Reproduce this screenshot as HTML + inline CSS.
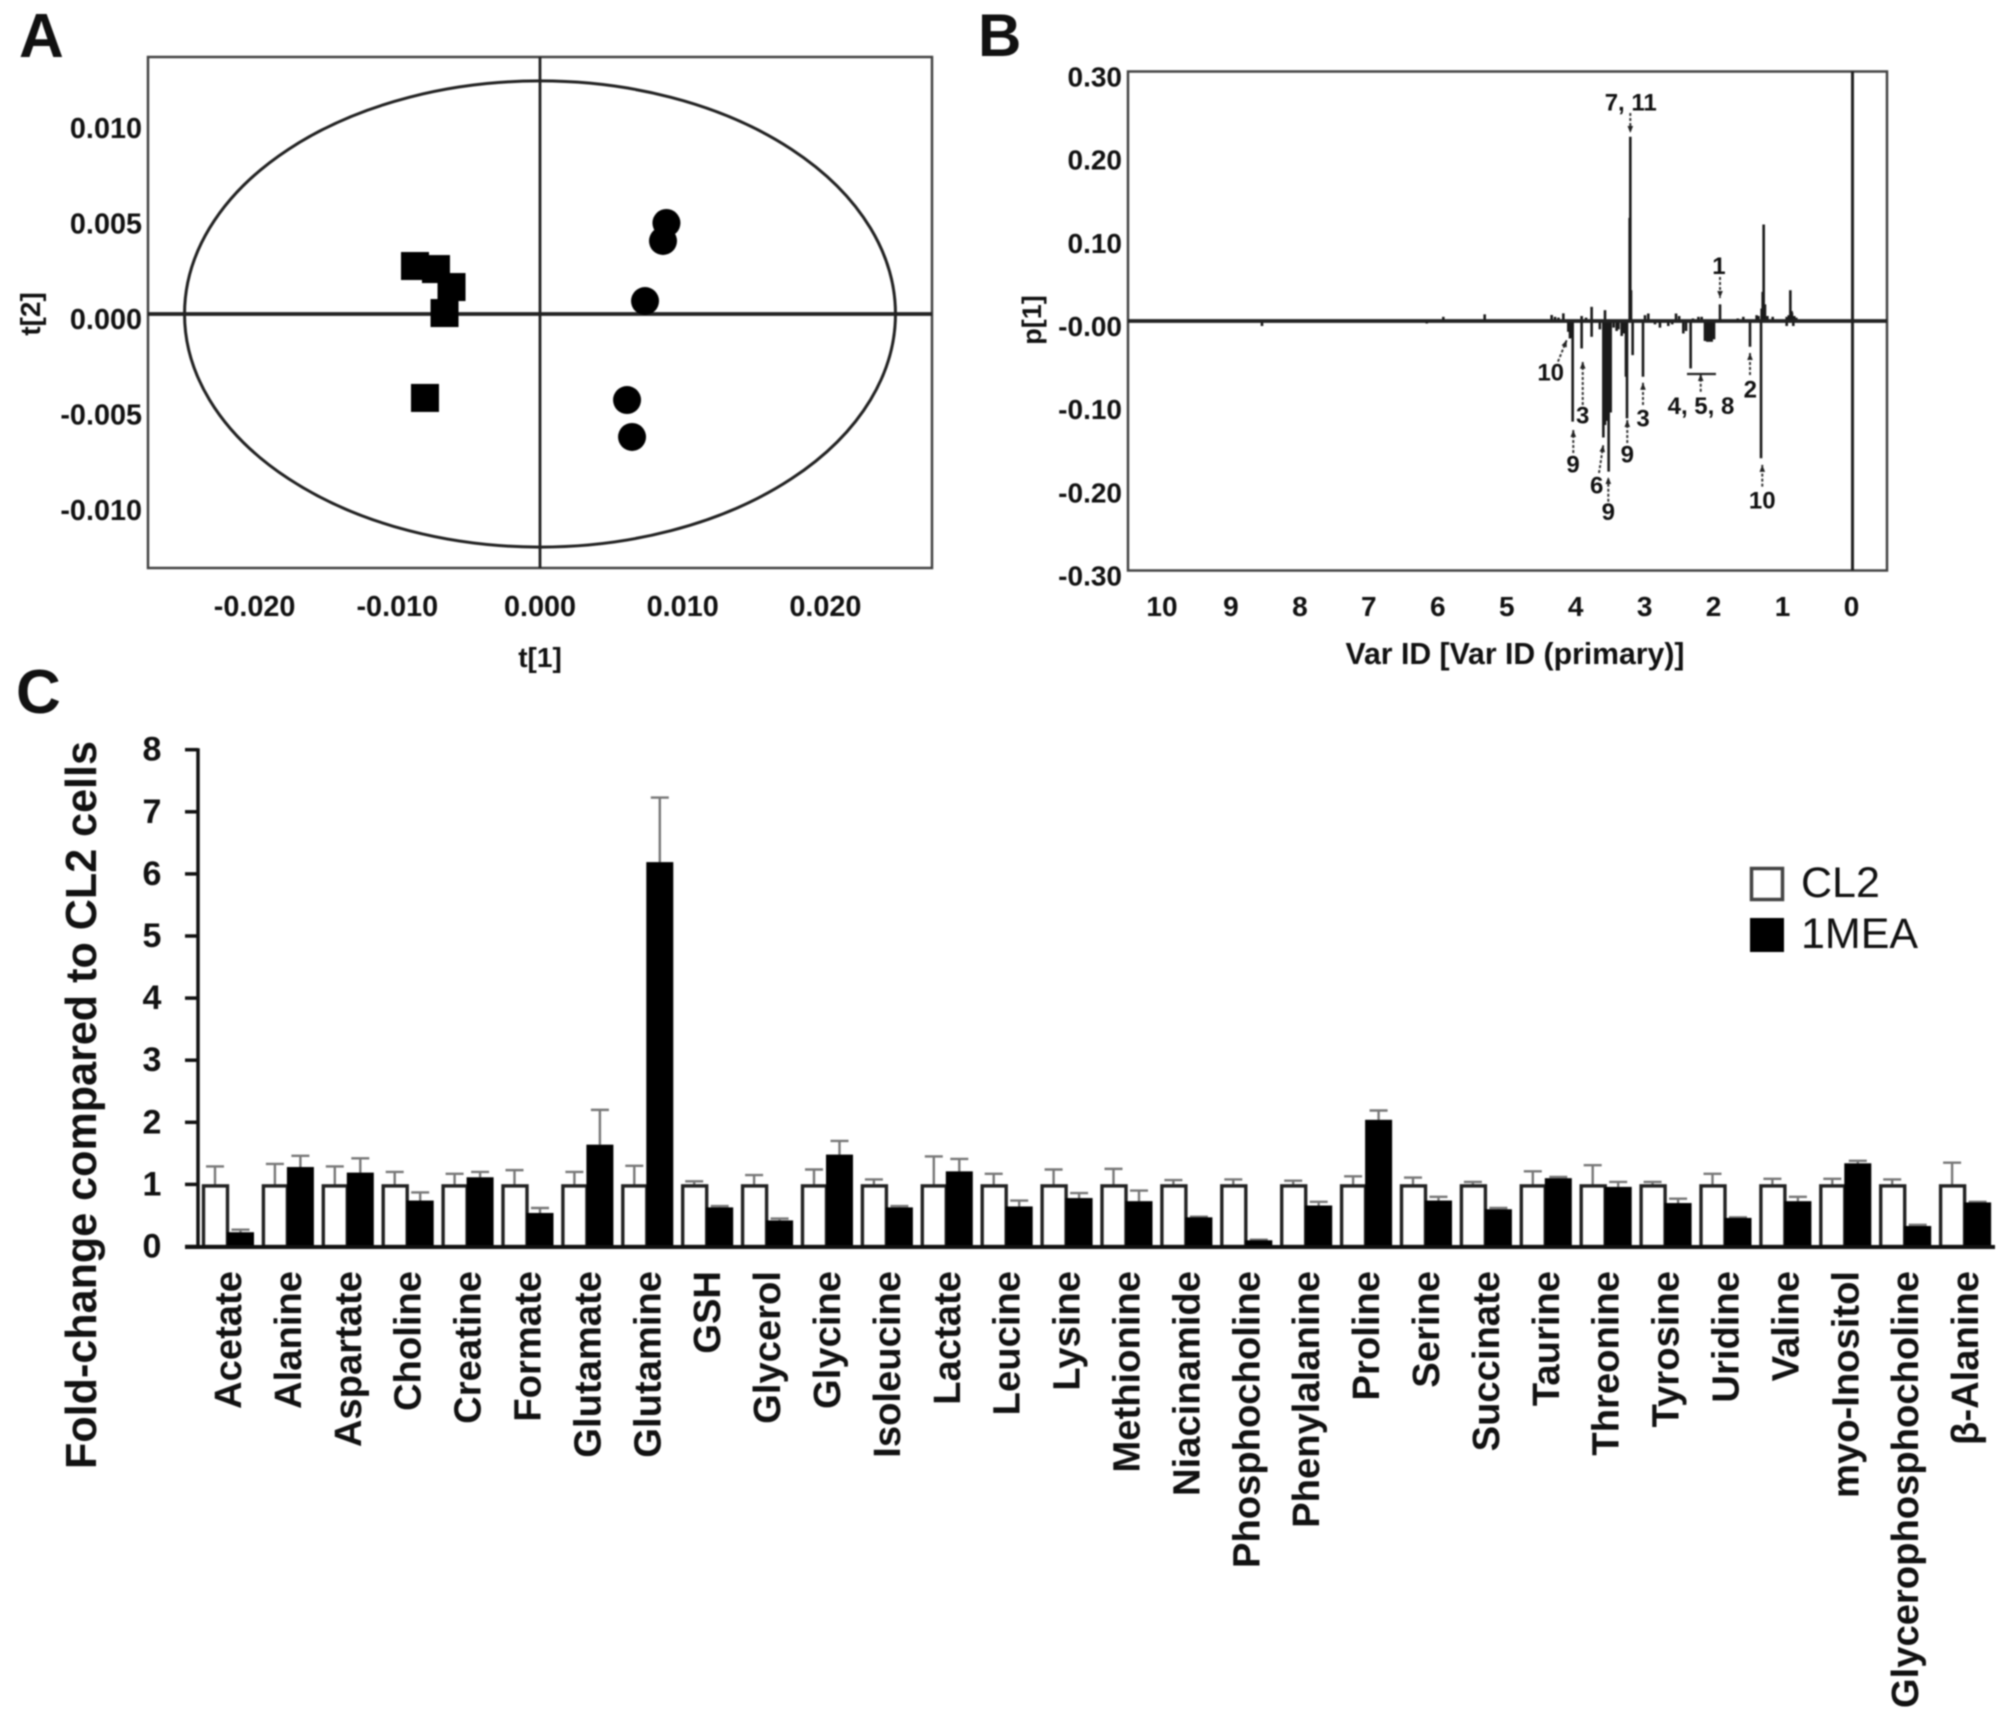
<!DOCTYPE html>
<html lang="en">
<head>
<meta charset="utf-8">
<title>Metabolomics figure: PCA score plot, loadings plot and fold-change bars</title>
<style>
  html, body { margin: 0; padding: 0; background: #fff; }
  #figure { display: block; width: 2008px; height: 1721px; filter: blur(0.8px); }
  text { font-family: "Liberation Sans", "Noto Sans CJK SC", sans-serif; fill: #111; }
  .b { font-weight: bold; }
</style>
</head>
<body>
<svg id="figure" xmlns="http://www.w3.org/2000/svg" width="2008" height="1721" viewBox="0 0 2008 1721">
  <rect x="0" y="0" width="2008" height="1721" fill="#fff"/>
  <text class="b" x="19" y="57" font-size="62">A</text>
  <text class="b" x="978" y="56" font-size="60">B</text>
  <text class="b" x="16" y="713" font-size="62">C</text>

  <g id="panelA">
    <text class="b" x="540" y="667" font-size="28" text-anchor="middle">t[1]</text>
    <text class="b" transform="translate(40,314) rotate(-90)" font-size="28" text-anchor="middle">t[2]</text>
  </g>
  <g id="panelB">
    <text class="b" x="1515" y="664" font-size="30.2" text-anchor="middle">Var ID [Var ID (primary)]</text>
    <text class="b" transform="translate(1041,320) rotate(-90)" font-size="27" text-anchor="middle">p[1]</text>
  </g>
  <g id="panelC">
    <text class="b" transform="translate(96,1105) rotate(-90)" font-size="43.1" text-anchor="middle">Fold-change compared to CL2 cells</text>
    <g>
      <rect x="1751.5" y="868.5" width="31" height="31" fill="#fff" stroke="#444" stroke-width="3.5"/>
      <text x="1801" y="897" font-size="43">CL2</text>
      <rect x="1750" y="918" width="34" height="34" fill="#000"/>
      <text x="1801" y="948" font-size="43">1MEA</text>
    </g>
  </g>
</svg>

<script>
/* ---------- Panel A data ---------- */
const scoreXTicks = [-0.02, -0.01, 0, 0.01, 0.02];
const scoreXTickLabels = ['-0.020', '-0.010', '0.000', '0.010', '0.020'];
const scoreYTicks = [0.01, 0.005, 0, -0.005, -0.01];
const scoreYTickLabels = ['0.010', '0.005', '0.000', '-0.005', '-0.010'];
const squareT1 = [-0.00876, -0.00729, -0.0062, -0.00669, -0.00806];
const squareT2 = [0.00251, 0.00235, 0.00141, 0.00005, -0.00439];
const circleT1 = [0.00886, 0.00862, 0.00736, 0.0061, 0.00645];
const circleT2 = [0.00476, 0.00382, 0.00068, -0.0045, -0.00643];
const ellipseT1 = 0.02491;
const ellipseT2 = 0.01219;

/* ---------- Panel B data ---------- */
const loadXTicks = [10, 9, 8, 7, 6, 5, 4, 3, 2, 1, 0];
const loadYTicks = [0.3, 0.2, 0.1, 0, -0.1, -0.2, -0.3];
const loadYTickLabels = ['0.30', '0.20', '0.10', '-0.00', '-0.10', '-0.20', '-0.30'];
const peakPpm = [8.55, 6.16, 5.92, 5.32, 4.349, 4.179, 4.107, 4.083, 4.059, 4.044, 3.914, 3.914, 3.769, 3.769, 3.599, 3.575, 3.575, 3.551, 3.522, 3.493, 3.406, 3.333, 3.271, 3.256, 3.208, 3.217, 3.198, 3.174, 3.024, 2.995, 2.947, 2.778, 2.657, 2.545, 2.439, 2.333, 2.22, 2.173, 2.125, 2.091, 2.062, 2.028, 1.994, 1.907, 1.569, 1.472, 1.376, 1.312, 1.303, 1.288, 1.274, 1.255, 1.143, 0.94, 0.94, 0.887, 0.863, 0.844, 4.3, 4.25, 3.85, 3.65, 3.45, 3.38, 3.3, 2.85, 2.6, 2.5, 2.4, 2.3, 1.65, 1.35, 1.22, 0.91, 0.87, 0.83, 0.8];
const peakLoad = [-0.006, -0.003, 0.005, 0.008, 0.0072, 0.0092, -0.013, -0.021, -0.02, -0.121, -0.033, 0.006, 0.017, -0.019, -0.14, 0.013, -0.125, -0.12, -0.181, -0.11, -0.012, -0.018, -0.067, -0.117, 0.2215, 0.124, 0.037, -0.041, -0.067, 0.007, 0.009, -0.008, -0.006, 0.009, -0.015, -0.057, 0.005, 0.005, -0.024, -0.025, -0.025, -0.025, -0.022, 0.02, 0.005, -0.031, 0.007, -0.165, 0.015, 0.035, 0.116, 0.02, 0.005, -0.006, 0.005, 0.037, 0.01, -0.006, 0.005, 0.004, 0.004, -0.01, -0.008, -0.01, -0.015, -0.004, -0.004, 0.006, -0.012, 0.003, 0.003, 0.006, 0.006, 0.007, 0.012, 0.006, 0.004];
const noteText = ['7, 11', '1', '10', '3', '9', '6', '9', '9', '3', '4, 5, 8', '2', '10'];
const notePpm = [3.202, 1.922, 4.363, 3.898, 4.039, 3.695, 3.527, 3.252, 3.024, 2.183, 1.468, 1.294];
const noteLoad = [0.263, 0.0665, -0.0613, -0.113, -0.172, -0.197, -0.229, -0.16, -0.1166, -0.1018, -0.0817, -0.215];
const arrowFromPpm = [3.208, 1.907, 4.257, 3.898, 4.035, 3.662, 3.527, 3.252, 3.024, 2.187, 1.472, 1.294];
const arrowFromLoad = [0.25, 0.0529, -0.0489, -0.101, -0.1587, -0.1827, -0.2172, -0.1466, -0.101, -0.085, -0.0649, -0.199];
const arrowToPpm = [3.208, 1.907, 4.13, 3.898, 4.035, 3.6, 3.527, 3.252, 3.024, 2.187, 1.472, 1.294];
const arrowToLoad = [0.226, 0.0276, -0.0228, -0.0489, -0.131, -0.149, -0.1875, -0.119, -0.0742, -0.0637, -0.0385, -0.173];
const bracketPpm = [2.386, 1.966];
const bracketLoad = -0.0637;

/* ---------- Panel C data ---------- */
const metabolites = ['Acetate', 'Alanine', 'Aspartate', 'Choline', 'Creatine', 'Formate', 'Glutamate', 'Glutamine', 'GSH', 'Glycerol', 'Glycine', 'Isoleucine', 'Lactate', 'Leucine', 'Lysine', 'Methionine', 'Niacinamide', 'Phosphocholine', 'Phenylalanine', 'Proline', 'Serine', 'Succinate', 'Taurine', 'Threonine', 'Tyrosine', 'Uridine', 'Valine', 'myo-Inositol', 'Glycerophosphocholine', '\u03B2-Alanine'];
const cl2Values = [1, 1, 1, 1, 1, 1, 1, 1, 1, 1, 1, 1, 1, 1, 1, 1, 1, 1, 1, 1, 1, 1, 1, 1, 1, 1, 1, 1, 1, 1];
const cl2ErrTop = [1.29, 1.33, 1.29, 1.2, 1.17, 1.23, 1.2, 1.3, 1.05, 1.15, 1.24, 1.08, 1.45, 1.17, 1.24, 1.25, 1.07, 1.08, 1.06, 1.13, 1.11, 1.04, 1.21, 1.31, 1.04, 1.17, 1.09, 1.09, 1.08, 1.35];
const mea1Values = [0.23, 1.28, 1.19, 0.74, 1.115, 0.54, 1.64, 6.19, 0.63, 0.42, 1.48, 0.63, 1.21, 0.645, 0.78, 0.73, 0.47, 0.1, 0.66, 2.04, 0.74, 0.6, 1.1, 0.96, 0.7, 0.46, 0.73, 1.34, 0.33, 0.71];
const mea1ErrTop = [0.27, 1.46, 1.42, 0.87, 1.2, 0.62, 2.2, 7.23, 0.65, 0.45, 1.7, 0.65, 1.41, 0.74, 0.86, 0.9, 0.48, 0.11, 0.72, 2.19, 0.8, 0.62, 1.12, 1.04, 0.77, 0.47, 0.8, 1.38, 0.35, 0.72];
const foldTicks = [0, 1, 2, 3, 4, 5, 6, 7, 8];

/* ---------- helpers ---------- */
const NS = 'http://www.w3.org/2000/svg';
function mk(parent, tag, attrs, txt) {
  const el = document.createElementNS(NS, tag);
  for (const k in attrs) el.setAttribute(k, attrs[k]);
  if (txt !== undefined) el.textContent = txt;
  parent.appendChild(el);
  return el;
}
const gA = document.getElementById('panelA');
const gB = document.getElementById('panelB');
const gC = document.getElementById('panelC');

/* ---------- Panel A axes ---------- */
const ax = v => 540 + v * 14270;
const ay = v => 314 - v * 19120;

const frameA = mk(gA, 'rect', {x: 148, y: 57, width: 784, height: 511, fill: 'none', stroke: '#444', 'stroke-width': 2.5});



const ell = mk(gA, 'ellipse', {cx: ax(0), cy: ay(0), rx: ellipseT1 * 14270, ry: ellipseT2 * 19120, fill: 'none', stroke: '#222', 'stroke-width': 3});



const vA = mk(gA, 'line', {x1: ax(0), x2: ax(0), y1: 57, y2: 568, stroke: '#222', 'stroke-width': 2.8});



const hA = mk(gA, 'line', {x1: 148, x2: 932, y1: ay(0), y2: ay(0), stroke: '#222', 'stroke-width': 3.8});



scoreXTicks.forEach((t, i) => {
  const el = mk(gA, 'text', {x: ax(t), y: 616, 'font-size': 28.8, 'font-weight': 'bold', 'text-anchor': 'middle'}, scoreXTickLabels[i]);
  
  
});
scoreYTicks.forEach((t, i) => {
  const el = mk(gA, 'text', {x: 142, y: ay(t) + 15, 'font-size': 28.8, 'font-weight': 'bold', 'text-anchor': 'end'}, scoreYTickLabels[i]);
  
  
});
squareT1.forEach((t, i) => {
  const el = mk(gA, 'rect', {x: ax(t) - 14, y: ay(squareT2[i]) - 14, width: 28, height: 28, fill: '#000'});
  
  
});
circleT1.forEach((t, i) => {
  const el = mk(gA, 'circle', {cx: ax(t), cy: ay(circleT2[i]), r: 14, fill: '#000'});
  
  
});

/* ---------- Panel B axes ---------- */
const bx = v => 1851.5 - v * 68.95;
const by = v => 321 - v * 832;

const frameB = mk(gB, 'rect', {x: 1128, y: 71.5, width: 759, height: 499, fill: 'none', stroke: '#444', 'stroke-width': 2.5});



const vB = mk(gB, 'line', {x1: bx(0) + 1, x2: bx(0) + 1, y1: 71.5, y2: 570.5, stroke: '#222', 'stroke-width': 3});



loadXTicks.forEach(t => {
  const el = mk(gB, 'text', {x: bx(t), y: 616, 'font-size': 28, 'font-weight': 'bold', 'text-anchor': 'middle'}, String(t));
  
  
});
loadYTicks.forEach((t, i) => {
  const el = mk(gB, 'text', {x: 1122, y: by(t) + 15, 'font-size': 28, 'font-weight': 'bold', 'text-anchor': 'end'}, loadYTickLabels[i]);
  
  
});
peakPpm.forEach((p, i) => {
  const el = mk(gB, 'line', {x1: bx(p), x2: bx(p), y1: by(0), y2: by(peakLoad[i]), stroke: '#1a1a1a', 'stroke-width': 2.6});
  
  
});
const hB = mk(gB, 'line', {x1: 1128, x2: 1887, y1: by(0), y2: by(0), stroke: '#222', 'stroke-width': 3.8});



noteText.forEach((t, i) => {
  const label = mk(gB, 'text', {x: bx(notePpm[i]), y: by(noteLoad[i]) + 8.5, 'font-size': 24, 'font-weight': 'bold', 'text-anchor': 'middle'}, t);
  
  
  const x1 = bx(arrowFromPpm[i]), y1 = by(arrowFromLoad[i]), x2 = bx(arrowToPpm[i]), y2 = by(arrowToLoad[i]);
  const shaft = mk(gB, 'line', {x1: x1, y1: y1, x2: x2, y2: y2, stroke: '#333', 'stroke-width': 2, 'stroke-dasharray': '3 2'});
  
  
  const a = Math.atan2(y2 - y1, x2 - x1);
  const hx = x2 - 7 * Math.cos(a), hy = y2 - 7 * Math.sin(a);
  const nx = -Math.sin(a) * 2.8, ny = Math.cos(a) * 2.8;
  const head = mk(gB, 'polygon', {points: x2 + ',' + y2 + ' ' + (hx + nx) + ',' + (hy + ny) + ' ' + (hx - nx) + ',' + (hy - ny), fill: '#222'});
  
  
});
const bracket = mk(gB, 'line', {x1: bx(bracketPpm[0]), x2: bx(bracketPpm[1]), y1: by(bracketLoad), y2: by(bracketLoad), stroke: '#222', 'stroke-width': 2.2});



/* ---------- Panel C axes ---------- */
const cy = v => 1246.5 - v * 62.1;
const groupX = i => 203 + i * 59.9;

metabolites.forEach((name, i) => {
  const gx = groupX(i);

  const errW = mk(gC, 'line', {x1: gx + 12, x2: gx + 12, y1: cy(cl2Values[i]), y2: cy(cl2ErrTop[i]), stroke: '#777', 'stroke-width': 2.4});
  
  
  const capW = mk(gC, 'line', {x1: gx + 3, x2: gx + 21, y1: cy(cl2ErrTop[i]), y2: cy(cl2ErrTop[i]), stroke: '#777', 'stroke-width': 2.4});
  
  

  const errB = mk(gC, 'line', {x1: gx + 37.5, x2: gx + 37.5, y1: cy(mea1Values[i]), y2: cy(mea1ErrTop[i]), stroke: '#777', 'stroke-width': 2.4});
  
  
  const capB = mk(gC, 'line', {x1: gx + 28.5, x2: gx + 46.5, y1: cy(mea1ErrTop[i]), y2: cy(mea1ErrTop[i]), stroke: '#777', 'stroke-width': 2.4});
  
  

  const white = mk(gC, 'rect', {x: gx + 0.5, y: cy(cl2Values[i]) + 1.5, width: 24, height: cy(0) - cy(cl2Values[i]) - 1.5, fill: '#fff', stroke: '#222', 'stroke-width': 3.4});
  
  

  const black = mk(gC, 'rect', {x: gx + 24, y: cy(mea1Values[i]), width: 27, height: cy(0) - cy(mea1Values[i]), fill: '#000'});
  
  

  const lab = mk(gC, 'text', {transform: 'translate(' + (gx + 38) + ',1271) rotate(-90)', 'font-size': 38.2, 'font-weight': 'bold', 'text-anchor': 'end'}, name);
  
  
});

const yAxis = mk(gC, 'line', {x1: 198, x2: 198, y1: cy(8) - 1.5, y2: cy(0), stroke: '#111', 'stroke-width': 3.5});



const xAxis = mk(gC, 'line', {x1: 185, x2: 1995, y1: cy(0) + 0.5, y2: cy(0) + 0.5, stroke: '#111', 'stroke-width': 4});



foldTicks.forEach(t => {
  const tick = mk(gC, 'line', {x1: 185, x2: 198, y1: cy(t), y2: cy(t), stroke: '#111', 'stroke-width': 3.5});
  
  
  const lab = mk(gC, 'text', {x: 152, y: cy(t) + 11, 'font-size': 34, 'font-weight': 'bold', 'text-anchor': 'middle'}, String(t));
  
  
});
</script>
</body>
</html>
